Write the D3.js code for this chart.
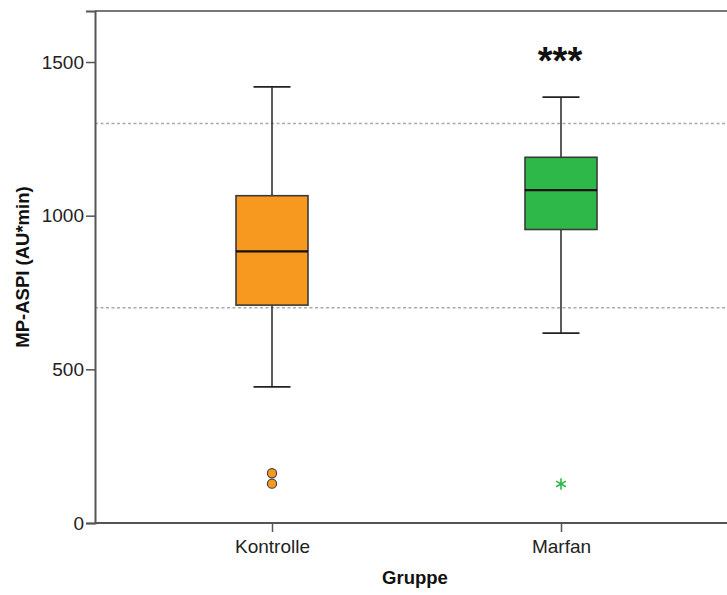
<!DOCTYPE html>
<html><head><meta charset="utf-8">
<script src="https://cdn.jsdelivr.net/npm/d3@7"></script>
<style>body{margin:0;background:#fff}svg{display:block}</style>
</head><body>
<svg id="c" width="727" height="595"></svg>
<script>
const categories = ["Kontrolle", "Marfan"];
const colors = ["#F7991F", "#2EB84A"];
const whiskerLow = [443, 618];
const q1 = [709, 955];
const median = [884, 1083];
const q3 = [1065, 1190];
const whiskerHigh = [1419, 1386];
const outliers = [[162, 128], [127]];
const outlierSymbol = ["circle", "asterisk"];
const yTicks = [0, 500, 1000, 1500];
const refLines = [700, 1300];
const significance = ["", "***"];

const svg = d3.select("#c");
const axisColor = "#555";
const font = "Liberation Sans, Arial, sans-serif";
const y = d3.scaleLinear().domain([0, 1666]).range([523, 11]);
const x = d3.scalePoint().domain(categories).range([272, 561]);
const boxW = 72, capW = 37;

// reference lines
svg.selectAll(".ref").data(refLines).enter().append("line")
  .attr("x1", 95).attr("x2", 727).attr("y1", d => y(d)).attr("y2", d => y(d))
  .attr("stroke", "#aaa").attr("stroke-width", 1.5).attr("stroke-dasharray", "3,2.5");

// frame top
svg.append("line").attr("x1", 95).attr("x2", 727).attr("y1", y(1666)).attr("y2", y(1666))
  .attr("stroke", "#777").attr("stroke-width", 2);

// y axis
const ya = svg.append("g").attr("transform", "translate(95,0)")
  .call(d3.axisLeft(y).tickValues(yTicks).tickSize(9).tickPadding(2).tickFormat(d3.format("d")));
ya.select(".domain").attr("stroke", axisColor).attr("stroke-width", 2);
ya.selectAll(".tick line").attr("stroke", axisColor).attr("stroke-width", 1.5);
ya.selectAll("text").attr("font-family", font).attr("font-size", 19).attr("fill", "#222");

// x axis
const xa = svg.append("g").attr("transform", "translate(0,523)")
  .call(d3.axisBottom(x).tickSize(9).tickPadding(8));
xa.select(".domain").attr("d", "M95,0H727").attr("stroke", axisColor).attr("stroke-width", 2);
xa.selectAll(".tick line").attr("stroke", axisColor).attr("stroke-width", 1.5);
xa.selectAll("text").attr("font-family", font).attr("font-size", 19).attr("fill", "#222");

// axis titles
svg.append("text").attr("transform", "translate(29,267) rotate(-90)")
  .attr("text-anchor", "middle").attr("font-family", font)
  .attr("font-weight", "bold").attr("font-size", 18.5).attr("fill", "#111").text("MP-ASPI (AU*min)");
svg.append("text").attr("x", 415).attr("y", 584)
  .attr("text-anchor", "middle").attr("font-family", font)
  .attr("font-weight", "bold").attr("font-size", 18.5).attr("fill", "#111").text("Gruppe");

// boxes
const g = svg.selectAll(".box").data(categories).enter().append("g");
g.append("line").attr("x1", d => x(d)).attr("x2", d => x(d))
  .attr("y1", (d, i) => y(whiskerHigh[i])).attr("y2", (d, i) => y(q3[i]))
  .attr("stroke", "#333").attr("stroke-width", 1.6);
g.append("line").attr("x1", d => x(d)).attr("x2", d => x(d))
  .attr("y1", (d, i) => y(q1[i])).attr("y2", (d, i) => y(whiskerLow[i]))
  .attr("stroke", "#333").attr("stroke-width", 1.6);
g.append("line").attr("x1", d => x(d) - capW / 2).attr("x2", d => x(d) + capW / 2)
  .attr("y1", (d, i) => y(whiskerHigh[i])).attr("y2", (d, i) => y(whiskerHigh[i]))
  .attr("stroke", "#222").attr("stroke-width", 1.8);
g.append("line").attr("x1", d => x(d) - capW / 2).attr("x2", d => x(d) + capW / 2)
  .attr("y1", (d, i) => y(whiskerLow[i])).attr("y2", (d, i) => y(whiskerLow[i]))
  .attr("stroke", "#222").attr("stroke-width", 1.8);
g.append("rect").attr("x", d => x(d) - boxW / 2).attr("width", boxW)
  .attr("y", (d, i) => y(q3[i])).attr("height", (d, i) => y(q1[i]) - y(q3[i]))
  .attr("fill", (d, i) => colors[i]).attr("stroke", "#3a3a3a").attr("stroke-width", 1.6);
g.append("line").attr("x1", d => x(d) - boxW / 2).attr("x2", d => x(d) + boxW / 2)
  .attr("y1", (d, i) => y(median[i])).attr("y2", (d, i) => y(median[i]))
  .attr("stroke", "#111").attr("stroke-width", 2.2);

// outliers
categories.forEach((c, i) => {
  outliers[i].forEach(v => {
    if (outlierSymbol[i] === "circle") {
      svg.append("circle").attr("cx", x(c)).attr("cy", y(v)).attr("r", 4.6)
        .attr("fill", colors[i]).attr("stroke", "#444").attr("stroke-width", 1.2);
    } else {
      svg.append("path").attr("d", d3.symbol(d3.symbolAsterisk, 90)())
        .attr("transform", `translate(${x(c)},${y(v)})`)
        .attr("fill", "none").attr("stroke", colors[i]).attr("stroke-width", 1.6);
    }
  });
  if (significance[i]) {
    svg.append("text").attr("x", x(c) - 1).attr("y", 74).attr("text-anchor", "middle")
      .attr("font-family", font).attr("font-weight", "bold")
      .attr("font-size", 38).attr("fill", "#111").text(significance[i]);
  }
});
</script>
</body></html>
